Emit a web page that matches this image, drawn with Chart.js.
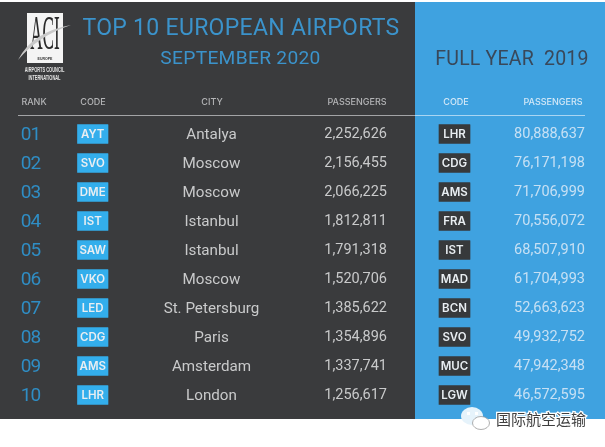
<!DOCTYPE html>
<html>
<head>
<meta charset="utf-8">
<title>Top 10 European Airports</title>
<script src="https://cdn.jsdelivr.net/npm/chart.js@4"></script>
<style>
html, body { margin: 0; padding: 0; background: #fff; }
canvas { display: block; filter: blur(0.35px); }
</style>
</head>
<body>
<canvas id="myChart" width="605" height="447"></canvas>
<script>
// data
const ranks = [1, 2, 3, 4, 5, 6, 7, 8, 9, 10];
const rankLabels = ['01', '02', '03', '04', '05', '06', '07', '08', '09', '10'];
const codes2020 = ['AYT', 'SVO', 'DME', 'IST', 'SAW', 'VKO', 'LED', 'CDG', 'AMS', 'LHR'];
const cities2020 = ['Antalya', 'Moscow', 'Moscow', 'Istanbul', 'Istanbul', 'Moscow', 'St. Petersburg', 'Paris', 'Amsterdam', 'London'];
const passengers2020 = [2252626, 2156455, 2066225, 1812811, 1791318, 1520706, 1385622, 1354896, 1337741, 1256617];
const codes2019 = ['LHR', 'CDG', 'AMS', 'FRA', 'IST', 'MAD', 'BCN', 'SVO', 'MUC', 'LGW'];
const passengers2019 = [80888637, 76171198, 71706999, 70556072, 68507910, 61704993, 52663623, 49932752, 47942348, 46572595];

// layout: x scale is in page px, y scale is in rows (29px high, row 1 centred at 134px)
const rowH = 29;
const row1Y = 134;
const rowAt = (py) => 1 + (py - row1Y) / rowH;

const DIN = 'Roboto, sans-serif';
const fmt = (n) => n.toLocaleString('en-US');

function textColumn(x, texts, font, color, align, dy, spacing) {
    return {
        type: 'scatter',
        data: ranks.map(r => ({x: x, y: r})),
        pointRadius: 0,
        texts: texts,
        textFont: font,
        textColor: color,
        textAlign: align || 'center',
        textDy: dy || 0,
        textSpacing: spacing || '0px'
    };
}

function badgeColumn(x0, x1, texts, bg) {
    return {
        type: 'bar',
        indexAxis: 'y',
        grouped: false,
        barThickness: 19,
        data: ranks.map(r => ({x: [x0, x1], y: r})),
        backgroundColor: bg,
        borderRadius: 0.5,
        texts: texts,
        textFont: '600 11.5px Inter, sans-serif',
        textColor: '#e9eef2',
        textAlign: 'center',
        textDy: 0.5,
        textSpacing: '0px'
    };
}

function drawText(ctx, str, x, y, font, color, align, spacing) {
    ctx.font = font;
    ctx.fillStyle = color;
    ctx.textAlign = align || 'center';
    ctx.textBaseline = 'middle';
    ctx.letterSpacing = spacing || '0px';
    ctx.fillText(str, x, y);
    ctx.letterSpacing = '0px';
}

function drawLogo(ctx) {
    ctx.fillStyle = '#f4f4f4';
    ctx.fillRect(27, 13, 36, 50);
    ctx.save();
    ctx.translate(45, 36);
    ctx.scale(0.66, 1.9);
    drawText(ctx, 'ACI', 0, 0, '400 26px "Liberation Serif", serif', '#2a2a2a');
    ctx.restore();
    drawText(ctx, 'EUROPE', 45, 59, '700 3.5px "Liberation Sans", sans-serif', '#333');
    ctx.beginPath();
    ctx.moveTo(18, 60);
    ctx.quadraticCurveTo(32, 32, 71, 25);
    ctx.quadraticCurveTo(38, 36, 18, 60);
    ctx.fillStyle = '#c9c9c9';
    ctx.fill();
    ctx.save();
    ctx.translate(44.5, 70);
    ctx.scale(0.62, 1.25);
    drawText(ctx, 'AIRPORTS COUNCIL', 0, 0, '700 6.4px "Liberation Sans", sans-serif', '#e4e4e4');
    drawText(ctx, 'INTERNATIONAL', 0, 6.2, '700 6.4px "Liberation Sans", sans-serif', '#e4e4e4');
    ctx.restore();
}

function drawWatermark(ctx) {
    ctx.beginPath();
    ctx.ellipse(472, 416, 11, 9, 0, 0, Math.PI * 2);
    ctx.fillStyle = '#e6f3fb';
    ctx.fill();
    ctx.fillStyle = '#fff';
    ctx.fillRect(467, 412, 3, 3);
    ctx.fillRect(475, 412, 3, 3);
    ctx.beginPath();
    ctx.ellipse(481, 423, 8.5, 6.5, 0, 0, Math.PI * 2);
    ctx.fillStyle = '#fff';
    ctx.fill();
    ctx.strokeStyle = '#9a9a9a';
    ctx.lineWidth = 0.8;
    ctx.stroke();
    ctx.font = '400 15px "Noto Sans CJK SC", sans-serif';
    ctx.textAlign = 'left';
    ctx.textBaseline = 'middle';
    ctx.strokeStyle = '#fff';
    ctx.lineWidth = 2.5;
    ctx.strokeText('国际航空运输', 496, 419);
    ctx.fillStyle = '#3f3f3f';
    ctx.fillText('国际航空运输', 496, 419);
}

const tablePlugin = {
    id: 'table',
    beforeDatasetsDraw(chart) {
        const {ctx, scales: {x, y}} = chart;
        const top = y.getPixelForValue(rowAt(2));
        const bottom = y.getPixelForValue(rowAt(419));
        const split = x.getPixelForValue(415);
        ctx.fillStyle = '#3a3b3d';
        ctx.fillRect(0, top, split, bottom - top);
        ctx.fillStyle = '#3fa2e0';
        ctx.fillRect(split, top, chart.width - split, bottom - top);

        const ruleY = y.getPixelForValue(rowAt(115));
        ctx.fillStyle = '#a3a4a6';
        ctx.fillRect(x.getPixelForValue(18), ruleY, split - x.getPixelForValue(18), 1);
        ctx.fillStyle = '#a9d5f2';
        ctx.fillRect(split, ruleY, x.getPixelForValue(585) - split, 1);

        drawLogo(ctx);
        drawText(ctx, 'TOP 10 EUROPEAN AIRPORTS', 241, 29.5, '400 23px ' + DIN, '#3b93cb', 'center', '0.3px');
        drawText(ctx, 'SEPTEMBER 2020', 240.5, 59, '400 19.2px ' + DIN, '#3b93cb', 'center', '0.3px');
        drawText(ctx, 'FULL YEAR  2019', 512, 60.5, '400 19.5px ' + DIN, '#39485a', 'center', '0.2px');

        const head = '500 9px Inter, sans-serif';
        drawText(ctx, 'RANK', 34, 102.5, head, '#b4b5b7');
        drawText(ctx, 'CODE', 93, 102.5, head, '#b4b5b7');
        drawText(ctx, 'CITY', 212, 102.5, head, '#b4b5b7');
        drawText(ctx, 'PASSENGERS', 357, 102.5, head, '#b4b5b7');
        drawText(ctx, 'CODE', 456, 102.5, head, '#d3e8f7');
        drawText(ctx, 'PASSENGERS', 553, 102.5, head, '#d3e8f7');
    },
    afterDatasetsDraw(chart) {
        const {ctx} = chart;
        chart.data.datasets.forEach((ds, i) => {
            const meta = chart.getDatasetMeta(i);
            meta.data.forEach((el, j) => {
                // bars report their end in tooltipPosition, so ask for the centre
                const pos = el.getCenterPoint ? el.getCenterPoint() : el.tooltipPosition();
                drawText(ctx, ds.texts[j], pos.x, pos.y + ds.textDy, ds.textFont, ds.textColor, ds.textAlign, ds.textSpacing);
            });
        });
        drawWatermark(ctx);
    }
};

const ctx = document.getElementById('myChart').getContext('2d');

const myChart = new Chart(ctx, {
    data: {
        datasets: [
            badgeColumn(77.5, 108, codes2020, '#33aeec'),
            badgeColumn(439, 470, codes2019, '#37393b'),
            textColumn(30.5, rankLabels, '400 19px ' + DIN, '#2f8dc4', 'center', 1, '-1px'),
            textColumn(211.5, cities2020, '400 15.2px ' + DIN, '#c9cacb', 'center', 1.5),
            textColumn(387, passengers2020.map(fmt), '400 14.5px ' + DIN, '#c9cacb', 'right', 0.5),
            textColumn(585, passengers2019.map(fmt), '400 14.5px ' + DIN, '#c6e0f4', 'right', 0.5)
        ]
    },
    plugins: [tablePlugin],
    options: {
        responsive: false,
        animation: false,
        layout: {padding: 0},
        events: [],
        plugins: {
            legend: {display: false},
            tooltip: {enabled: false}
        },
        scales: {
            x: {type: 'linear', display: false, offset: false, min: 0, max: 605},
            y: {type: 'linear', display: false, offset: false, reverse: true, min: rowAt(0), max: rowAt(447)}
        }
    }
});
</script>
</body>
</html>
